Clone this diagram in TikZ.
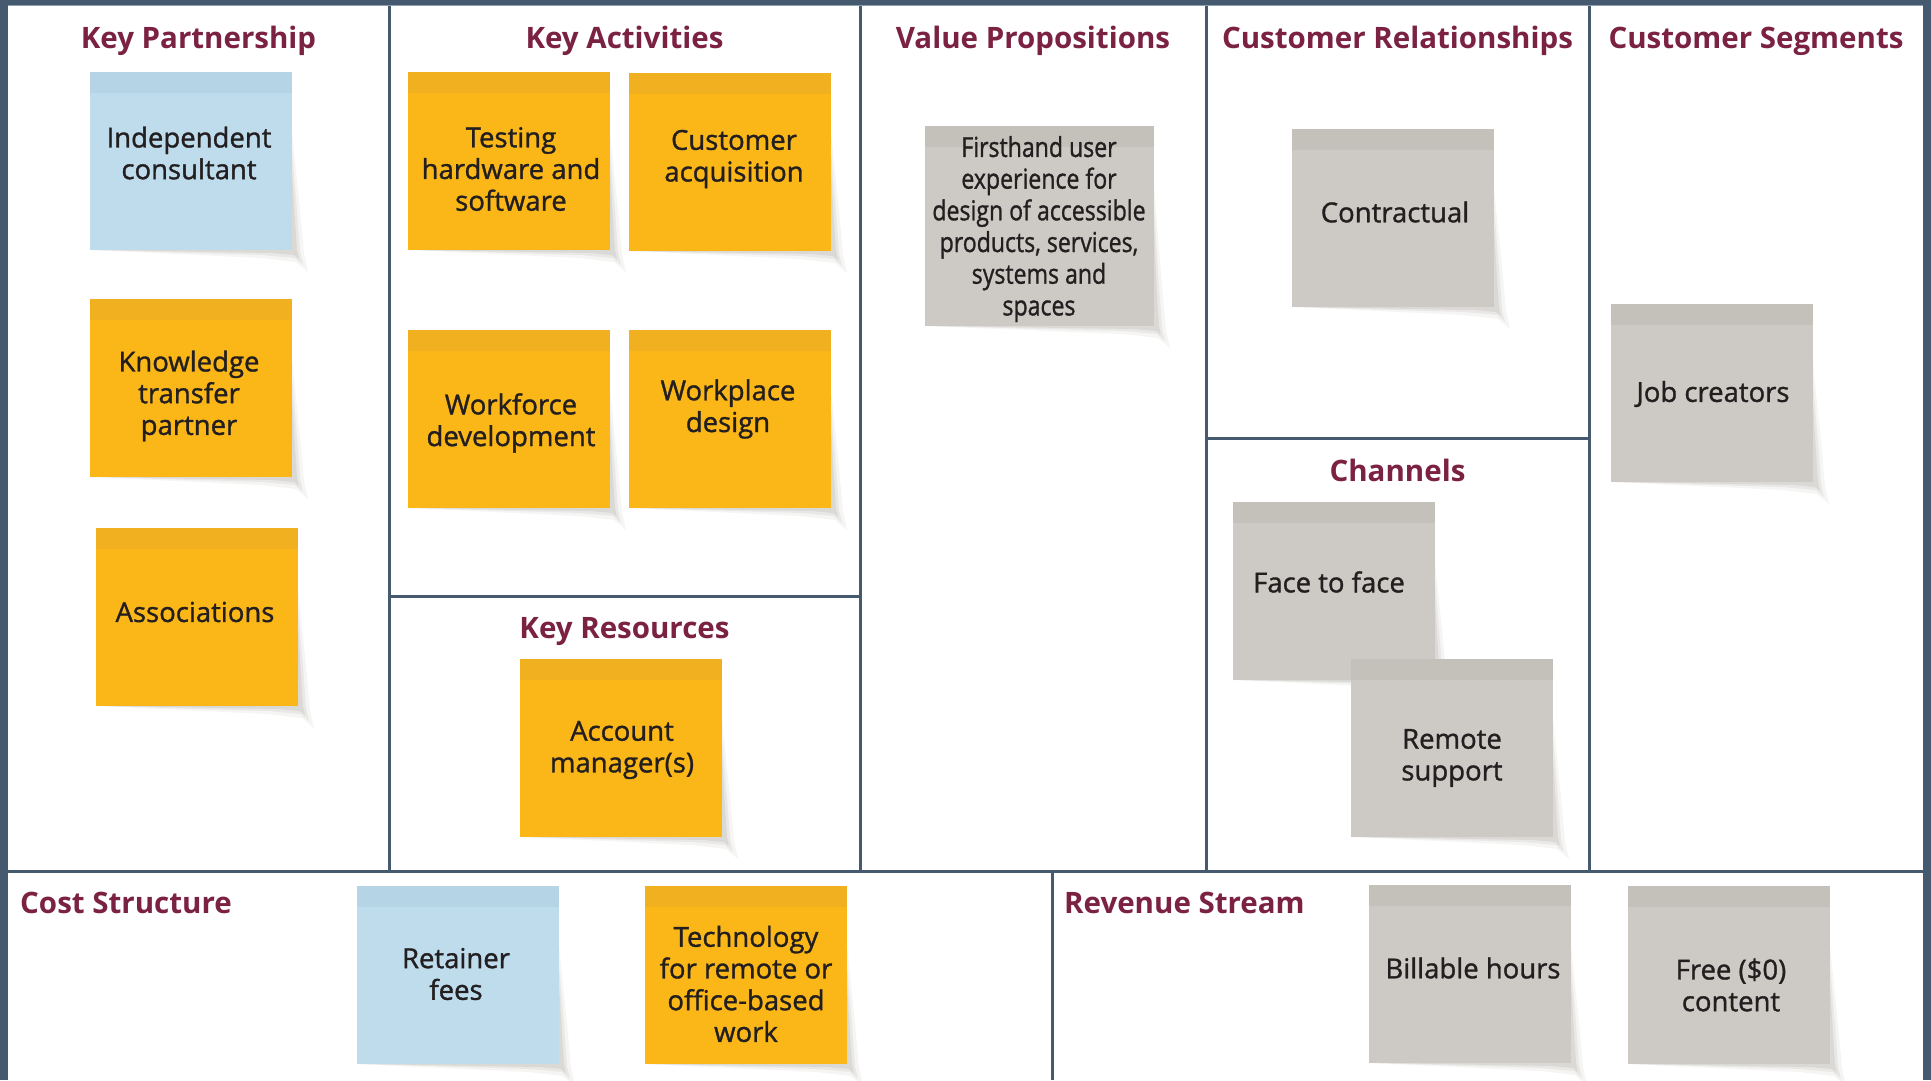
\documentclass[tikz,border=0pt]{standalone}
\usepackage{fontspec}
\setmainfont{Open Sans}
\newfontfamily\notefont[FakeBold=1.2]{Open Sans}
\definecolor{framec}{RGB}{69,90,110}
\definecolor{framelt}{RGB}{140,160,178}
\definecolor{titlec}{RGB}{123,33,66}
\definecolor{txtc}{RGB}{35,31,32}
\definecolor{bluebody}{RGB}{190,220,236}
\definecolor{bluehead}{RGB}{181,212,229}
\definecolor{orgbody}{RGB}{250,183,23}
\definecolor{orghead}{RGB}{240,176,32}
\definecolor{graybody}{RGB}{205,202,197}
\definecolor{grayhead}{RGB}{196,193,187}
\definecolor{shadowc}{RGB}{95,85,70}
\tikzset{
 divider/.style={draw=framec, line width=3pt},
 sectitle/.style={font=\bfseries\fontsize{29.5}{34}\selectfont, text=titlec, inner sep=0pt},
 notetext/.style={font=\notefont\fontsize{27.5}{31.7}\selectfont, text=txtc, align=center, inner sep=0pt},
 notebox/.style 2 args={draw=none, inner sep=0pt, fill=#1,
   path picture={\fill[#2] (path picture bounding box.north west) rectangle ([yshift=-21pt]path picture bounding box.north east);}},
 shadowlayer/.style={fill=shadowc, fill opacity=#1, draw=none},
}
\newcommand\stickynote[7]{%
  \fill[shadowlayer=0.06] ({#2+2},{#3+#5}) -- ({#2+#4-30},{#3+#5+8}) -- ({#2+#4+4},{#3+#5+12}) -- ({#2+#4+16},{#3+#5+22}) -- ({#2+#4+12},{#3+#5+4}) -- ({#2+#4+8},{#3+#5-40}) -- ({#2+#4},{#3+60}) -- cycle;
  \fill[shadowlayer=0.08] ({#2+4},{#3+#5}) -- ({#2+#4-30},{#3+#5+5}) -- ({#2+#4+3},{#3+#5+8}) -- ({#2+#4+11},{#3+#5+15}) -- ({#2+#4+8},{#3+#5+2}) -- ({#2+#4+5},{#3+#5-40}) -- ({#2+#4},{#3+80}) -- cycle;
  \fill[shadowlayer=0.10] ({#2+8},{#3+#5}) -- ({#2+#4-20},{#3+#5+3}) -- ({#2+#4+2},{#3+#5+5}) -- ({#2+#4+7},{#3+#5+9}) -- ({#2+#4+5},{#3+#5}) -- ({#2+#4+3},{#3+#5-30}) -- ({#2+#4},{#3+100}) -- cycle;
  \node[notebox={#6}{#7}, minimum width=#4pt, minimum height=#5pt] (#1) at ({#2+#4/2},{#3+#5/2}) {};
}
\begin{document}
\begin{tikzpicture}[x=1pt,y=-1pt]
\useasboundingbox (0,0) rectangle (1931,1080);
% frame
\fill[framec] (0,0) rectangle (1931,1080);
\fill[white] (8,6) rectangle (1923,1080);
\draw[framelt, line width=1pt] (8,5.5) -- (1923,5.5);
% dividers
\draw[divider] (389,6) -- (389,871);
\draw[divider] (860.5,6) -- (860.5,871);
\draw[divider] (1206,6) -- (1206,871);
\draw[divider] (1589,6) -- (1589,871);
\draw[divider] (8,871) -- (1923,871);
\draw[divider] (389,596.5) -- (860.5,596.5);
\draw[divider] (1206,438) -- (1589,438);
\draw[divider] (1052,871) -- (1052,1080);
% titles
\node[sectitle, anchor=base] (t-kp) at (198.5,48) {Key Partnership};
\node[sectitle, anchor=base] (t-ka) at (624.5,48) {Key Activities};
\node[sectitle, anchor=base] (t-vp) at (1033,48) {Value Propositions};
\node[sectitle, anchor=base] (t-cr) at (1397.5,48) {Customer Relationships};
\node[sectitle, anchor=base] (t-cs) at (1756,48) {Customer Segments};
\node[sectitle, anchor=base] (t-ch) at (1397.5,481) {Channels};
\node[sectitle, anchor=base] (t-kr) at (624.5,638) {Key Resources};
\node[sectitle, anchor=base west] (t-cost) at (20,913) {Cost Structure};
\node[sectitle, anchor=base west] (t-rev) at (1064,913) {Revenue Stream};
% sticky notes
\stickynote{indep}{90}{72}{202}{178}{bluebody}{bluehead}
\node[notetext] (indep-t) at (189,153) {Independent\\consultant};
\stickynote{know}{90}{299}{202}{178}{orgbody}{orghead}
\node[notetext] (know-t) at (189,396) {Knowledge\\transfer\\partner};
\stickynote{assoc}{96}{528}{202}{178}{orgbody}{orghead}
\node[notetext] (assoc-t) at (195,612) {Associations};
\stickynote{test}{408}{72}{202}{178}{orgbody}{orghead}
\node[notetext] (test-t) at (511,169) {Testing\\hardware and\\software};
\stickynote{acq}{629}{73}{202}{178}{orgbody}{orghead}
\node[notetext] (acq-t) at (734,159) {Customer\\acquisition};
\stickynote{work}{408}{330}{202}{178}{orgbody}{orghead}
\node[notetext] (work-t) at (511,423) {Workforce\\development};
\stickynote{place}{629}{330}{202}{178}{orgbody}{orghead}
\node[notetext] (place-t) at (728,409) {Workplace\\design};
\stickynote{acct}{520}{659}{202}{178}{orgbody}{orghead}
\node[notetext] (acct-t) at (622,750) {Account\\manager(s)};
\stickynote{first}{925}{126}{229}{200}{graybody}{grayhead}
\begin{scope}[shift={(1039,229)}, xscale=0.84]
\node[notetext, transform shape] (first-t) at (0,0) {Firsthand user\\experience for\\design of accessible\\products, services,\\systems and\\spaces};
\end{scope}
\stickynote{contr}{1292}{129}{202}{178}{graybody}{grayhead}
\node[notetext] (contr-t) at (1395,212) {Contractual};
\stickynote{job}{1611}{304}{202}{178}{graybody}{grayhead}
\node[notetext] (job-t) at (1713,394) {Job creators};
\stickynote{face}{1233}{502}{202}{178}{graybody}{grayhead}
\node[notetext] (face-t) at (1329,582) {Face to face};
\stickynote{remote}{1351}{659}{202}{178}{graybody}{grayhead}
\node[notetext] (remote-t) at (1452,758) {Remote\\support};
\stickynote{ret}{357}{886}{202}{178}{bluebody}{bluehead}
\node[notetext] (ret-t) at (456,974) {Retainer\\fees};
\stickynote{tech}{645}{886}{202}{178}{orgbody}{orghead}
\node[notetext] (tech-t) at (746,984) {Technology\\for remote or\\office-based\\work};
\stickynote{bill}{1369}{885}{202}{178}{graybody}{grayhead}
\node[notetext] (bill-t) at (1473,968) {Billable hours};
\stickynote{free}{1628}{886}{202}{178}{graybody}{grayhead}
\node[notetext] (free-t) at (1731,985) {Free (\$0)\\content};
\end{tikzpicture}
\end{document}
